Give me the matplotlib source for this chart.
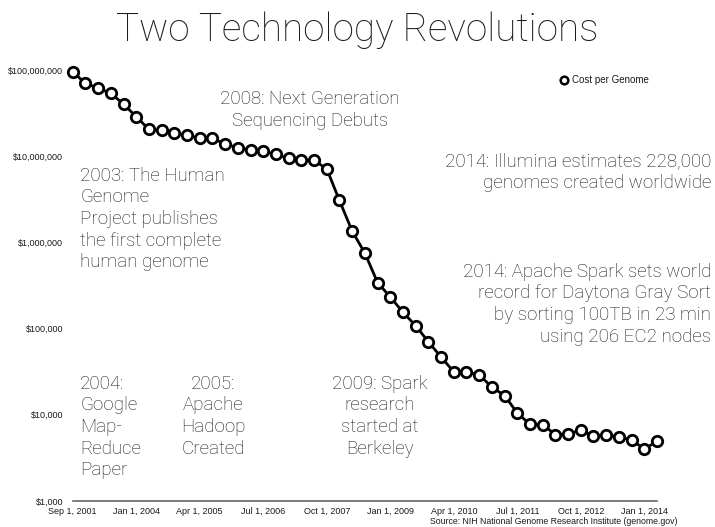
import matplotlib
matplotlib.use("Agg")
import matplotlib.pyplot as plt
from matplotlib.lines import Line2D
from matplotlib.ticker import FixedLocator, FuncFormatter, NullLocator

# Cost per genome (USD), NIH sequencing cost series, one point per period
periods = [
    "Sep 2001", "Mar 2002", "Sep 2002", "Mar 2003", "Oct 2003",
    "Jan 2004", "Apr 2004", "Jul 2004", "Oct 2004",
    "Jan 2005", "Apr 2005", "Jul 2005", "Oct 2005",
    "Jan 2006", "Apr 2006", "Jul 2006", "Oct 2006",
    "Jan 2007", "Apr 2007", "Jul 2007", "Oct 2007",
    "Jan 2008", "Apr 2008", "Jul 2008", "Oct 2008",
    "Jan 2009", "Apr 2009", "Jul 2009", "Oct 2009",
    "Jan 2010", "Apr 2010", "Jul 2010", "Oct 2010",
    "Jan 2011", "Apr 2011", "Jul 2011", "Oct 2011",
    "Jan 2012", "Apr 2012", "Jul 2012", "Oct 2012",
    "Jan 2013", "Apr 2013", "Jul 2013", "Oct 2013",
    "Jan 2014", "Apr 2014",
]
cost_per_genome = [
    95263072, 70175437, 61448422, 53751684, 40157554,
    28780376, 20442576, 19934346, 18519312,
    17534970, 16159699, 16180224, 13801124,
    12585659, 11732535, 11455315, 10474556,
    9408739, 9047003, 8927342, 7147571,
    3063820, 1352982, 752080, 342502,
    232735, 154714, 108065, 70333,
    46774, 31512, 31125, 29092,
    20963, 16712, 10497, 7743,
    7666, 5901, 5985, 6618,
    5671, 5826, 5550, 5096,
    4008, 4920,
]
tick_every = 5
tick_labels = [
    "Sep 1, 2001", "Jan 1, 2004", "Apr 1, 2005", "Jul 1, 2006", "Oct 1, 2007",
    "Jan 1, 2009", "Apr 1, 2010", "Jul 1, 2011", "Oct 1, 2012", "Jan 1, 2014",
]
y_ticks = [1e3, 1e4, 1e5, 1e6, 1e7, 1e8]

TEXT = "#1a1a1a"
LIGHT = dict(family=["Roboto", "DejaVu Sans"], weight="light", color=TEXT)
SMALL = dict(family=["Liberation Sans", "DejaVu Sans"], color=TEXT)

W, H = 715, 527
fig = plt.figure(figsize=(W / 100, H / 100), dpi=100)
ax = fig.add_axes([72.7 / W, 1 - 501 / H, (657 - 72.7) / W, (501 - 70) / H])

x = list(range(len(cost_per_genome)))
ax.plot(x, cost_per_genome, color="black", lw=2.0, marker="o", ms=7.5,
        mfc="white", mec="black", mew=2.0, clip_on=False, zorder=3)

ax.set_yscale("log")
ax.set_ylim(1e3, 1e8)
ax.set_xlim(0, len(cost_per_genome) - 1)

ax.yaxis.set_major_locator(FixedLocator(y_ticks))
ax.yaxis.set_minor_locator(NullLocator())
ax.yaxis.set_major_formatter(FuncFormatter(lambda v, p: f"${v:,.0f}"))
ax.xaxis.set_major_locator(FixedLocator(x[::tick_every]))
ax.set_xticklabels(tick_labels)

for lab in ax.get_xticklabels() + ax.get_yticklabels():
    lab.set_fontfamily(SMALL["family"])
    lab.set_fontsize(6.5)
    lab.set_color(TEXT)
ax.tick_params(length=0)
ax.tick_params(axis="x", pad=4)
ax.tick_params(axis="y", pad=7)

for side in ["top", "right", "left"]:
    ax.spines[side].set_visible(False)
ax.spines["bottom"].set_color("#666666")
ax.spines["bottom"].set_linewidth(1.2)

# title
fig.text(357 / W, 1 - 30 / H, "Two Technology Revolutions", ha="center", va="center",
         fontsize=27.8, **LIGHT)

# event annotations (figure pixel positions)
ann = dict(fontsize=13.5, linespacing=1.25, **LIGHT)
fig.text(80 / W, 1 - 167 / H,
         "2003: The Human\nGenome\nProject publishes\nthe first complete\nhuman genome",
         ha="left", va="top", **ann)
fig.text(310 / W, 1 - 90 / H, "2008: Next Generation\nSequencing Debuts",
         ha="center", va="top", **ann)
fig.text(711 / W, 1 - 152 / H, "2014: Illumina estimates 228,000\ngenomes created worldwide",
         ha="right", va="top", **ann)
fig.text(711 / W, 1 - 263 / H,
         "2014: Apache Spark sets world\nrecord for Daytona Gray Sort\nby sorting 100TB in 23 min\nusing 206 EC2 nodes",
         ha="right", va="top", **ann)
fig.text(80 / W, 1 - 375 / H, "2004:\nGoogle\nMap-\nReduce\nPaper",
         ha="left", va="top", **ann)
fig.text(213 / W, 1 - 375 / H, "2005:\nApache\nHadoop\nCreated",
         ha="center", va="top", **ann)
fig.text(380 / W, 1 - 375 / H, "2009: Spark\nresearch\nstarted at\nBerkeley",
         ha="center", va="top", **ann)

# legend
handle = Line2D([], [], color="black", lw=0, marker="o", ms=5.5,
                mfc="white", mec="black", mew=1.8)
leg = fig.legend([handle], ["Cost per Genome"], loc="center left",
                 bbox_to_anchor=(554 / W, 1 - 80 / H), frameon=False,
                 handlelength=1.0, handletextpad=0.4, borderpad=0,
                 prop={"family": SMALL["family"], "size": 7})
for t in leg.get_texts():
    t.set_color(TEXT)

fig.text(677 / W, 1 - 522 / H,
         "Source: NIH National Genome Research Institute (genome.gov)",
         ha="right", va="center", fontsize=6.3, **SMALL)

fig.savefig("out.png", dpi=100, facecolor="white")
